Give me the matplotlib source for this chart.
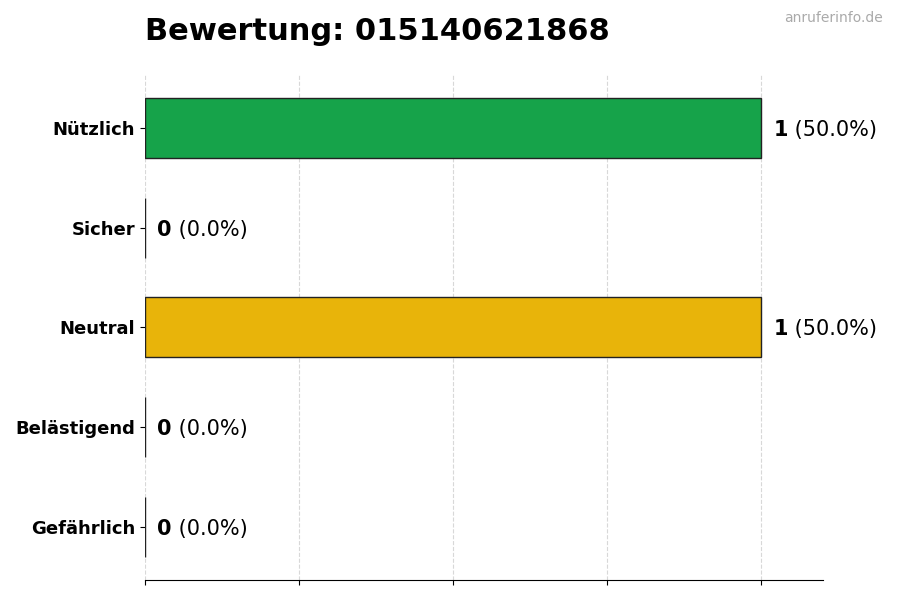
import matplotlib
matplotlib.use("Agg")
import matplotlib.pyplot as plt

categories = ["Nützlich", "Sicher", "Neutral", "Belästigend", "Gefährlich"]
counts = [1, 0, 1, 0, 0]
colors = ["#16a34a", "#2563eb", "#e8b40a", "#f97316", "#dc2626"]
title = "Bewertung: 015140621868"

total = sum(counts)
fig = plt.figure(figsize=(9, 6), dpi=100)
ax = fig.add_axes([0.161, 0.0333, 0.753, 0.842])

ypos = list(range(len(categories)))
ax.barh(ypos, counts, height=0.6, color=colors, edgecolor="#222222", linewidth=1)
ax.invert_yaxis()
ax.set_yticks(ypos)
ax.set_yticklabels(categories, fontsize=13, fontweight="bold")
ax.set_xlim(0, 1.1)
ax.set_xticks([0, 0.25, 0.5, 0.75, 1.0])
ax.set_xticklabels([])
ax.grid(axis="x", linestyle="--", color="#d8d8d8", linewidth=0.8)
ax.set_axisbelow(True)
for s in ["top", "right", "left"]:
    ax.spines[s].set_visible(False)

for y, v in zip(ypos, counts):
    pct = v / total * 100 if total else 0
    t = ax.text(v + 0.02, y, str(v), fontsize=15, fontweight="bold", va="center_baseline", ha="left")
    ax.annotate(f" ({pct:.1f}%)", xycoords=t, xy=(1, 0), va="bottom", ha="left", fontsize=15)

fig.text(0.161, 0.948, title, fontsize=22, fontweight="bold", ha="left", va="center")
fig.text(0.981, 0.97, "anruferinfo.de", fontsize=10, color="#aaaaaa", ha="right", va="center")

fig.savefig("out.png", dpi=100)
